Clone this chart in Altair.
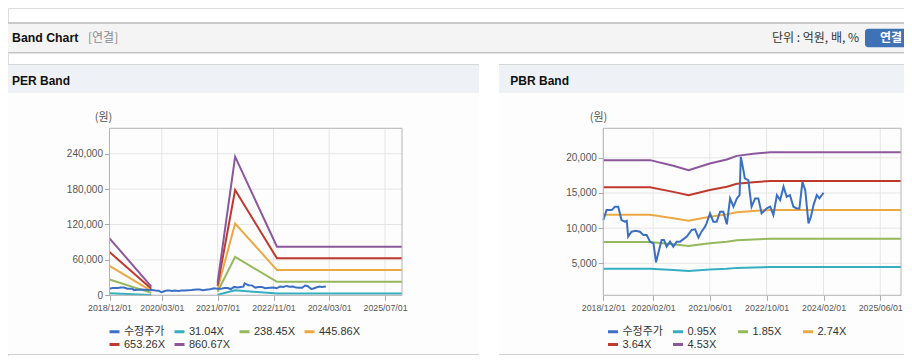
import altair as alt
import pandas as pd

# ---------------- data ----------------
price_dates = ["2018-12-01", "2018-12-29", "2019-02-11", "2019-03-10", "2019-04-08", "2019-05-06",
               "2019-06-04", "2019-06-20", "2019-07-02", "2019-07-31", "2019-09-05", "2019-10-11",
               "2019-11-09", "2019-12-08", "2020-01-06", "2020-02-04", "2020-02-26", "2020-03-16",
               "2020-04-14", "2020-05-04", "2020-05-27", "2020-06-25", "2020-07-23", "2020-08-21",
               "2020-09-19", "2020-11-16", "2020-12-28", "2021-01-26", "2021-02-24", "2021-03-22",
               "2021-04-21", "2021-05-04", "2021-06-03", "2021-07-01", "2021-07-30", "2021-08-28",
               "2021-09-25", "2021-10-25", "2021-11-22", "2021-12-21", "2022-01-19", "2022-02-11",
               "2022-02-22", "2022-03-16", "2022-03-28", "2022-04-27", "2022-05-25", "2022-06-24",
               "2022-07-22", "2022-08-19", "2022-10-02", "2022-11-01", "2022-11-28", "2022-12-28",
               "2023-01-25", "2023-02-23", "2023-03-22", "2023-04-19", "2023-05-19", "2023-06-16",
               "2023-07-09", "2023-08-04", "2023-08-28", "2023-09-25", "2023-10-16", "2023-11-07",
               "2023-12-05", "2023-12-28", "2024-02-01"]
price_values = [11150, 12570, 12570, 13050, 13050, 11150,
                10920, 11050, 8790, 9500, 9640, 9500,
                9030, 9030, 8080, 7840, 5150, 6420,
                8320, 8320, 7370, 8080, 7370, 8080,
                8080, 8790, 9740, 9830, 8650, 9500,
                10210, 10680, 12100, 10920, 10920, 12340,
                12340, 10550, 14230, 13050, 14230, 14700,
                20140, 18250, 17070, 16830, 13050, 14230,
                14230, 12100, 12810, 13050, 11860, 14700,
                13990, 15890, 14470, 14700, 13050, 12810,
                12810, 16590, 15410, 10680, 11630, 13280,
                14700, 14230, 15030]

# PER band (two segments, gap while earnings were negative)
per_dates = ["2018-12-01", "2019-12-01", "2021-07-01", "2021-12-01", "2022-12-01", "2025-11-26"]
per_segment = [1, 1, 2, 2, 2, 2]
per_labels = ["31.04X", "238.45X", "445.86X", "653.26X", "860.67X"]
per_0 = [3480, 530, 780, 8470, 2970, 2970]
per_1 = [26760, 4080, 5960, 65100, 22840, 22840]
per_2 = [50030, 7620, 11150, 121700, 42710, 42710]
per_3 = [73300, 11160, 16330, 178350, 62580, 62580]
per_4 = [96600, 14700, 21520, 235000, 82450, 82450]

# PBR band
pbr_dates = ["2018-12-01", "2020-01-06", "2020-07-23", "2020-12-01", "2021-06-01", "2021-10-25",
             "2022-01-19", "2022-06-10", "2022-11-01", "2025-11-26"]
pbr_labels = ["0.95X", "1.85X", "2.74X", "3.64X", "4.53X"]
pbr_0 = [4230, 4230, 4060, 3920, 4120, 4240, 4350, 4410, 4460, 4460]
pbr_1 = [8030, 8030, 7700, 7450, 7840, 8070, 8280, 8400, 8500, 8500]
pbr_2 = [11900, 11900, 11410, 11040, 11610, 11960, 12270, 12440, 12580, 12580]
pbr_3 = [15810, 15810, 15160, 14670, 15420, 15880, 16300, 16530, 16720, 16720]
pbr_4 = [19670, 19670, 18870, 18250, 19200, 19760, 20280, 20570, 20800, 20800]

price_label = "수정주가"
series_colors = ["#3b6fc4", "#36aec2", "#95b85a", "#eba843", "#c0392d", "#8d579c"]

per_y_ticks = [0, 60000, 120000, 180000, 240000]
pbr_y_ticks = [5000, 10000, 15000, 20000]
per_x_ticks = ["2018-12-01", "2020-03-01", "2021-07-01", "2022-11-01", "2024-03-01", "2025-07-01"]
pbr_x_ticks = ["2018-12-01", "2020-02-01", "2021-06-01", "2022-10-01", "2024-02-01", "2025-06-01"]
x_start = "2018-12-01"
x_end = "2025-11-26"

# ---------------- helpers ----------------
W, H = 896, 348
Y_TOP, Y_BOT = 120.3, 287.3
GRID = "#e6e6e6"
FRAME = "#b4b4b4"
LABEL_FONT = "Liberation Sans"
KR_FONT = "Noto Sans CJK KR"
dummy = pd.DataFrame({"a": [0]})


def dt(s):
    y, m, d = s.split("-")
    return alt.DateTime(year=int(y), month=int(m), date=int(d), utc=True)


def long_bands(dates, segs, labels, arrays):
    rows = []
    for lab, arr in zip(labels, arrays):
        for d, s, v in zip(dates, segs, arr):
            rows.append({"date": d, "value": v, "series": lab, "key": f"{lab}_{s}"})
    return pd.DataFrame(rows)


def panel(bands_df, x0, x1, ydom, yticks, xticks, labels, legend_x, title_dx):
    domain_all = [price_label] + labels
    xs = alt.Scale(type="utc", domain=[dt(x_start), dt(x_end)], range=[x0, x1])
    ys = alt.Scale(domain=ydom, range=[Y_BOT, Y_TOP], nice=False, zero=False)
    color = alt.Color(
        "series:N",
        scale=alt.Scale(domain=domain_all, range=series_colors),
        legend=alt.Legend(
            orient="none", legendX=legend_x, legendY=317, columns=4, direction="horizontal",
            title=None, symbolType="stroke", symbolStrokeWidth=3, symbolSize=100,
            labelFont=f"{LABEL_FONT}, {KR_FONT}", labelFontSize=11, labelColor="#333",
            gridAlign="all", columnPadding=3, rowPadding=0, labelOffset=3, padding=0,
        ),
    )
    x_axis = alt.Axis(
        orient="bottom", offset=Y_BOT - H, values=[dt(t) for t in xticks], format="%Y/%m/%d",
        labelFlush=False, labelOverlap=False, grid=False, domain=False, zindex=2,
        tickColor="#aaa", tickSize=5, labelColor="#555", labelFont=LABEL_FONT,
        labelFontSize=8.8, labelPadding=3, title=None)
    y_axis = alt.Axis(
        orient="left", offset=-x0, values=yticks, format=",d", grid=False, domain=False,
        zindex=2, tickColor="#aaa", tickSize=5, labelColor="#555", labelFont=LABEL_FONT,
        labelFontSize=10, labelPadding=2, title="(원)", titleAngle=0, titleX=title_dx,
        titleY=109.5, titleFont=KR_FONT, titleFontSize=11, titleFontWeight="normal",
        titleColor="#555", titleAlign="center", titleBaseline="middle")
    bands = alt.Chart(bands_df).mark_line(strokeWidth=2).encode(
        x=alt.X("date:T", scale=xs, axis=x_axis),
        y=alt.Y("value:Q", scale=ys, axis=y_axis),
        color=color,
        detail="key:N",
    )
    # other layers leave the axis unspecified so the explicit axis above is the one kept
    grid_v = alt.Chart(pd.DataFrame({"date": xticks})).mark_rule(color=GRID, strokeWidth=1).encode(
        x=alt.X("date:T", scale=xs), y=alt.value(Y_TOP), y2=alt.value(Y_BOT))
    grid_h = alt.Chart(pd.DataFrame({"value": yticks})).mark_rule(color=GRID, strokeWidth=1).encode(
        y=alt.Y("value:Q", scale=ys), x=alt.value(x0), x2=alt.value(x1))
    price_df = pd.DataFrame({"date": price_dates, "value": price_values, "series": price_label})
    price = alt.Chart(price_df).mark_line(strokeWidth=2).encode(
        x=alt.X("date:T", scale=xs),
        y=alt.Y("value:Q", scale=ys),
        color=color,
    )
    frame = alt.Chart(dummy).mark_rect(fillOpacity=0, stroke=FRAME, strokeWidth=1).encode(
        x=alt.value(x0), x2=alt.value(x1), y=alt.value(Y_TOP), y2=alt.value(Y_BOT))
    return alt.layer(grid_v, grid_h, bands, price, frame)


def box(x0, x1, y0, y1, fill, **kw):
    return alt.Chart(dummy).mark_rect(color=fill, **kw).encode(
        x=alt.value(x0), x2=alt.value(x1), y=alt.value(y0), y2=alt.value(y1))


def label(txt, x, y, size=12, color="#333", weight="normal", align="left", font=KR_FONT):
    return alt.Chart(dummy).mark_text(text=txt, align=align, baseline="middle", fontSize=size,
                                      color=color, fontWeight=weight, font=font).encode(
        x=alt.value(x), y=alt.value(y))


deco = [
    # top header bar
    box(0, W, 14, 45, "#f4f4f4"),
    box(0, W, 14, 16, "#c8c8c8"),
    box(0, W, 44, 45, "#c4c4c4"),
    box(0, W, 45, 46, "#e2e2e2"),
    label("Band Chart", 4, 30.3, size=12.3, color="#111", weight="bold", font=f"{LABEL_FONT}"),
    label("[연결]", 80, 30.3, size=12, color="#8a8a8a"),
    label("단위 : 억원, 배, %", 851, 30.3, size=12, color="#333", align="right"),
    box(857, W + 6, 20.7, 39.3, "#3f72b5", cornerRadius=3),
    label("연결", 883, 30, size=12, color="white", weight="bold", align="center"),
    # panel headers + bodies
    box(0, 471, 85, 347, "#fdfdfd"),
    box(491, W, 85, 347, "#fdfdfd"),
    box(0, 471, 56, 85, "#eef2f7"),
    box(491, W, 56, 85, "#eef2f7"),
    box(0, 471, 56, 57, "#d6d6d6"),
    box(491, W, 56, 57, "#d6d6d6"),
    box(0, 471, 346, 347, "#d0d0d0"),
    box(491, W, 346, 347, "#d0d0d0"),
    label("PER Band", 4, 72.7, size=12, color="#111", weight="bold", font=f"{LABEL_FONT}"),
    label("PBR Band", 502.3, 72.7, size=12, color="#111", weight="bold", font=f"{LABEL_FONT}"),
]

per_df = long_bands(per_dates, per_segment, per_labels, [per_0, per_1, per_2, per_3, per_4])
pbr_df = long_bands(pbr_dates, [1] * len(pbr_dates), pbr_labels, [pbr_0, pbr_1, pbr_2, pbr_3, pbr_4])

left = panel(per_df, 101.5, 394, [0, 283000], per_y_ticks, per_x_ticks, per_labels, 100, -6.5)
right = panel(pbr_df, 595.3, 893, [450, 24200], pbr_y_ticks, pbr_x_ticks, pbr_labels, 598.5, -5.3)

chart = alt.layer(*deco, left, right).resolve_scale(
    x="independent", y="independent", color="independent"
).properties(
    width=W, height=H, autosize=alt.AutoSizeParams(type="none"), padding=0
).configure_view(stroke=None).configure(background="white")

chart.save("out.html", embed_options={"renderer": "svg", "actions": False})
